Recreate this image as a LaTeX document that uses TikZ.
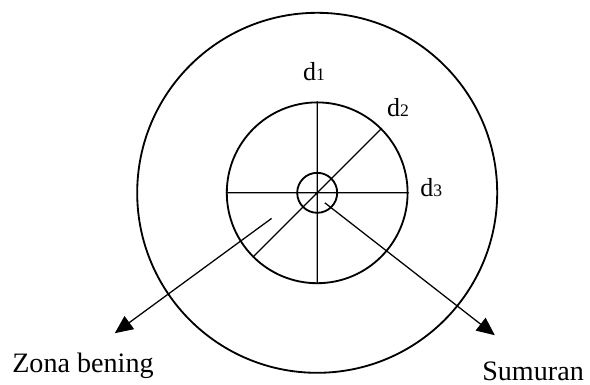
\documentclass[tikz,border=0pt]{standalone}
\usepackage{fontspec}
\setmainfont{Liberation Serif}
\usetikzlibrary{arrows.meta}
\newcommand{\dsub}[1]{d{\fontsize{12.5}{13}\selectfont #1}}
\begin{document}
\begin{tikzpicture}[ring/.style={circle,draw,line width=1.3pt,inner sep=0pt},
	lbl/.style={font=\fontsize{18.5}{22}\selectfont,inner sep=0pt,anchor=base west},
	caption/.style={font=\fontsize{20}{24}\selectfont,inner sep=0pt,anchor=base west},
	pointer/.style={-{Triangle[length=0.45cm,width=0.4cm]},line width=0.9pt}]
		\useasboundingbox (-7.93,-4.78) rectangle (6.82,4.82);
		\node[ring,minimum size=9cm] (outer) at (0,0) {};
		\node[ring,minimum size=4.52cm] (inner) at (0,0) {};
		\node[ring,minimum size=1cm] (well) at (0,0) {};
		\draw[line width=0.9pt] (inner.north) -- (inner.south) (inner.west) -- (inner.east) (inner.south west) -- (inner.north east);
		
		\node[lbl] (d1) at (-0.36,2.80) {\dsub{1}};
		\node[lbl] (d2) at (1.74,1.92) {\dsub{2}};
		\node[lbl] (d3) at (2.57,-0.10) {\dsub{3}};
		\node[caption] (zona) at (-7.63,-4.48) {Zona bening};
		\node[caption] (sumuran) at (4.12,-4.68) {Sumuran};
		
		\coordinate (zonastart) at (-1.14,-0.64);
		\coordinate (zonaend) at (-5.06,-3.51);
		\coordinate (sumurstart) at (0.19,-0.25);
		\coordinate (sumurend) at (4.44,-3.56);
		\draw[pointer] (zonastart) -- (zonaend);
		\draw[pointer] (sumurstart) -- (sumurend);
\end{tikzpicture}
\end{document}
